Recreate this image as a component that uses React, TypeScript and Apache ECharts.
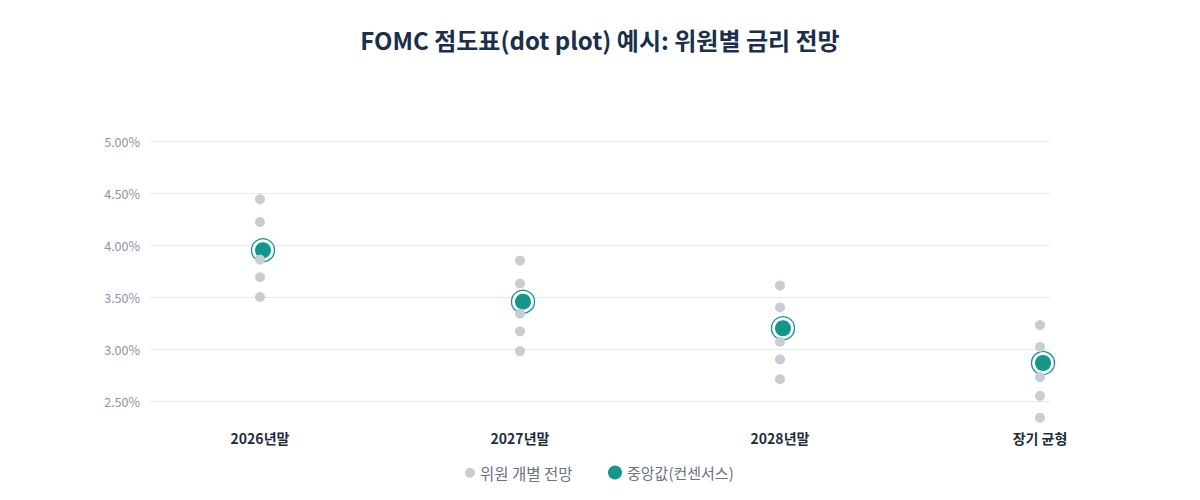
import React, { useEffect, useRef } from "react";
import * as echarts from "echarts";

const categories = ["2026년말", "2027년말", "2028년말", "장기 균형"];
const memberDots2026 = [4.44, 4.22, 3.86, 3.69, 3.5];
const memberDots2027 = [3.85, 3.63, 3.34, 3.17, 2.98];
const memberDots2028 = [3.61, 3.4, 3.07, 2.9, 2.71];
const memberDotsLong = [3.23, 3.02, 2.73, 2.55, 2.34];
const medians = [3.95, 3.455, 3.2, 2.865];
const yTicks = [2.5, 3.0, 3.5, 4.0, 4.5, 5.0];

const TEAL = "#12968e";
const GRAY = "#c9ccd3";
const FONT = "'Noto Sans CJK KR', 'Noto Sans', sans-serif";

export default function App() {
  const ref = useRef<HTMLDivElement>(null);
  useEffect(() => {
    if (!ref.current) return;
    const chart = echarts.init(ref.current, undefined, { renderer: "svg" });
    const memberGroups = [memberDots2026, memberDots2027, memberDots2028, memberDotsLong];
    const memberData: number[][] = [];
    memberGroups.forEach((g, i) => g.forEach((v) => memberData.push([i, v])));
    const medianData = medians.map((v, i) => [i, v]);
    chart.setOption({
      animation: false,
      textStyle: { fontFamily: FONT },
      title: {
        text: "FOMC 점도표(dot plot) 예시: 위원별 금리 전망",
        left: "center",
        top: 14,
        textStyle: { fontFamily: FONT, fontSize: 24, fontWeight: "bold", color: "#1a2f4c" },
      },
      legend: [
        {
          data: ["위원 개별 전망"],
          left: 452,
          top: 452,
          icon: "circle",
          itemWidth: 10,
          itemHeight: 10,
          itemGap: 20,
          textStyle: { fontFamily: FONT, fontSize: 15.5, color: "#6b7280" },
        },
        {
          data: ["중앙값(컨센서스)"],
          left: 595,
          top: 452,
          icon: "circle",
          itemWidth: 14,
          itemHeight: 14,
          textStyle: { fontFamily: FONT, fontSize: 15, color: "#6b7280" },
        },
      ],
      grid: { left: 142, right: 142, top: 133, bottom: 65, containLabel: false },
      xAxis: {
        type: "value",
        min: -110 / 260,
        max: 3 + 10 / 260,
        axisLine: { show: false },
        axisTick: { show: false },
        splitLine: { show: false },
        axisLabel: {
          customValues: [0, 1, 2, 3],
          formatter: (v: number) => categories[Math.round(v)] ?? "",
          margin: 4,
          fontFamily: FONT,
          fontSize: 14,
          fontWeight: "bold",
          color: "#1f2d3d",
        },
      },
      yAxis: {
        type: "value",
        min: 2.25,
        max: 5,
        interval: 0.25,
        axisLine: { show: false },
        axisTick: { show: false },
        axisLabel: {
          formatter: (v: number) =>
            yTicks.some((t) => Math.abs(t - v) < 1e-6) ? v.toFixed(2) + "%" : "",
          color: "#8a94a6",
          fontSize: 12.5,
          fontFamily: FONT,
          margin: 10,
        },
        splitLine: {
          lineStyle: { color: ["rgba(0,0,0,0)", "#e6e8ee"], width: 1 },
        },
      },
      series: [
        {
          name: "중앙값 링",
          type: "scatter",
          data: medianData,
          symbol: "circle",
          symbolSize: 23,
          symbolOffset: [3, 0],
          itemStyle: { color: "#ffffff", borderColor: TEAL, borderWidth: 1.3, opacity: 1 },
          silent: true,
        },
        {
          name: "중앙값(컨센서스)",
          type: "scatter",
          data: medianData,
          symbol: "circle",
          symbolSize: 16,
          symbolOffset: [3, 0],
          itemStyle: { color: TEAL, opacity: 1 },
        },
        {
          name: "위원 개별 전망",
          type: "scatter",
          data: memberData,
          symbol: "circle",
          symbolSize: 10,
          itemStyle: { color: GRAY, opacity: 1 },
        },
      ],
    });
    return () => chart.dispose();
  }, []);
  return <div ref={ref} style={{ width: 1184, height: 484 }} />;
}
